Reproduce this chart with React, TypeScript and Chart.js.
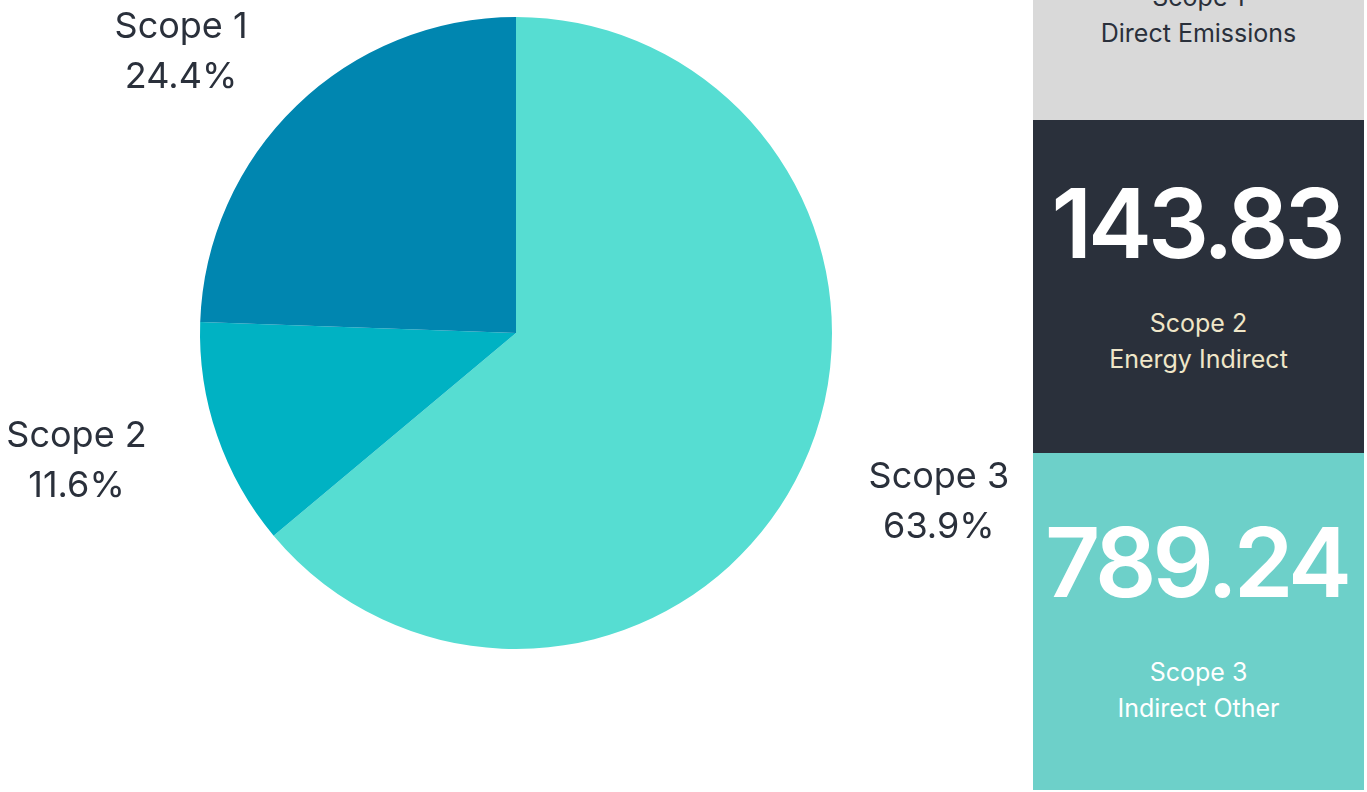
import React, { useEffect, useRef } from "react";
import { Chart, registerables } from "chart.js";

Chart.register(...registerables);

// Slices listed clockwise from 12 o'clock, as in the picture
const categories = ["Scope 3", "Scope 2", "Scope 1"];
const values = [789.24, 143.83, 301.8];
const sliceColors = ["#56ddd2", "#00b2c3", "#0086b0"];

// Side panels (top to bottom)
const panelScopes = ["Scope 1", "Scope 2", "Scope 3"];
const panelSubtitles = ["Direct Emissions", "Energy Indirect", "Indirect Other"];
const panelValues = [301.8, 143.83, 789.24];

const FONT = "Inter, 'DejaVu Sans', sans-serif";
const TEXT_DARK = "#2a303b";

const outLabels = {
  id: "outLabels",
  afterDatasetsDraw(chart: any) {
    const ctx = chart.ctx;
    const meta = chart.getDatasetMeta(0);
    const data = chart.data.datasets[0].data as number[];
    const total = data.reduce((a, b) => a + b, 0);
    const top = chart.chartArea.top;
    ctx.save();
    ctx.font = `400 36px ${FONT}`;
    ctx.fillStyle = TEXT_DARK;
    ctx.textAlign = "center";
    ctx.textBaseline = "alphabetic";
    meta.data.forEach((arc: any, i: number) => {
      const p = arc.getProps(["x", "y", "startAngle", "endAngle", "outerRadius"], true);
      const mid = (p.startAngle + p.endAngle) / 2;
      const dx = Math.cos(mid);
      const dy = Math.sin(mid);
      const px = p.x + dx * (p.outerRadius + 100);
      const py = p.y + dy * (p.outerRadius + 100);
      const cx = px + Math.sign(dx) * 46;
      let b1 = py - 21;
      if (b1 < top + 21) b1 = top + 21;
      const pct = ((data[i] / total) * 100).toFixed(1) + "%";
      ctx.fillText(chart.data.labels[i], cx, b1);
      ctx.fillText(pct, cx, b1 + 50);
    });
    ctx.restore();
  },
};

function PieChart() {
  const ref = useRef<HTMLCanvasElement>(null);
  useEffect(() => {
    if (!ref.current) return;
    const chart = new Chart(ref.current, {
      type: "pie",
      data: {
        labels: categories,
        datasets: [
          {
            data: values,
            backgroundColor: sliceColors,
            borderWidth: 0,
          },
        ],
      },
      options: {
        animation: false,
        responsive: false,
        layout: { padding: { top: 17, bottom: 143, left: 0, right: 1 } },
        plugins: {
          legend: { display: false },
          tooltip: { enabled: false },
        },
      },
      plugins: [outLabels],
    });
    return () => chart.destroy();
  }, []);
  return (
    <canvas
      ref={ref}
      width={1033}
      height={792}
      style={{ position: "absolute", left: 0, top: 0, width: 1033, height: 792 }}
    />
  );
}

const panelBoxes = [
  { top: -213, height: 333, bg: "#d9d9d9", num: "#2a303b", label: "#2a303b", numTop: 55, labTop: 192 },
  { top: 120, height: 333, bg: "#2a303b", num: "#ffffff", label: "#efe6c8", numTop: 55, labTop: 185 },
  { top: 453, height: 337, bg: "#6dd0c9", num: "#ffffff", label: "#ffffff", numTop: 61, labTop: 201 },
];

export default function App() {
  return (
    <div style={{ position: "fixed", left: 0, top: 0, width: 1367, height: 792, background: "#ffffff", overflow: "hidden" }}>
      <PieChart />
      {panelBoxes.map((p, i) => (
        <div
          key={i}
          style={{
            position: "absolute",
            left: 1033,
            width: 331,
            top: p.top,
            height: p.height,
            background: p.bg,
            fontFamily: FONT,
          }}
        >
          <div
            style={{
              position: "absolute",
              left: 0,
              right: 0,
              top: p.numTop,
              textAlign: "center",
              fontSize: 96,
              lineHeight: "96px",
              fontWeight: 600,
              letterSpacing: -4,
              textIndent: -4,
              color: p.num,
            }}
          >
            {panelValues[i].toFixed(2)}
          </div>
          <div
            style={{
              position: "absolute",
              left: 0,
              right: 0,
              top: p.labTop,
              textAlign: "center",
              fontSize: 25,
              lineHeight: "36px",
              color: p.label,
            }}
          >
            <div>{panelScopes[i]}</div>
            <div>{panelSubtitles[i]}</div>
          </div>
        </div>
      ))}
    </div>
  );
}
